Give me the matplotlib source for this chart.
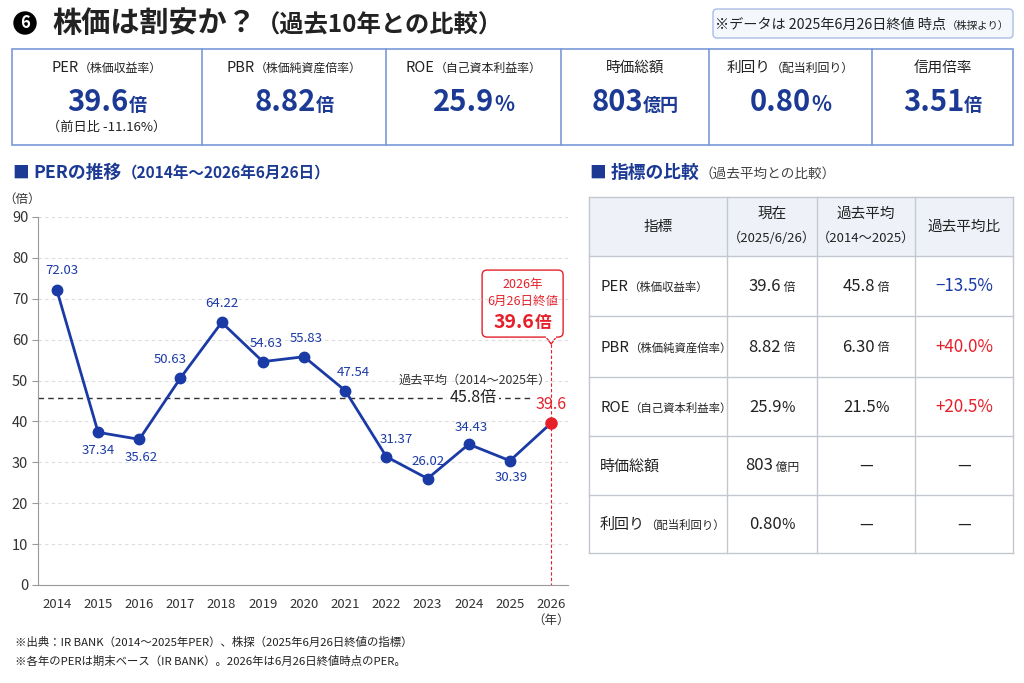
import numpy as np
import matplotlib.pyplot as plt
from matplotlib.patches import Rectangle, FancyBboxPatch, Polygon, Circle

plt.rcParams['font.family'] = ['Noto Sans CJK JP', 'DejaVu Sans']

W, H = 1024, 683

# データ
years = [2014, 2015, 2016, 2017, 2018, 2019, 2020, 2021, 2022, 2023, 2024, 2025, 2026]
per = [72.03, 37.34, 35.62, 50.63, 64.22, 54.63, 55.83, 47.54, 31.37, 26.02, 34.43, 30.39, 39.6]
per_avg = 45.8

card_titles = ['PER', 'PBR', 'ROE', '時価総額', '利回り', '信用倍率']
card_subs = ['（株価収益率）', '（株価純資産倍率）', '（自己資本利益率）', '', '（配当利回り）', '']
card_values = ['39.6', '8.82', '25.9', '803', '0.80', '3.51']
card_units = ['倍', '倍', '%', '億円', '%', '倍']
per_change = -11.16

tbl_names = ['PER', 'PBR', 'ROE', '時価総額', '利回り']
tbl_subs = ['（株価収益率）', '（株価純資産倍率）', '（自己資本利益率）', '', '（配当利回り）']
tbl_now = ['39.6', '8.82', '25.9', '803', '0.80']
tbl_now_units = ['倍', '倍', '%', '億円', '%']
tbl_avg = ['45.8', '6.30', '21.5', None, None]
tbl_avg_units = ['倍', '倍', '%', '', '']
tbl_ratio = [-13.5, 40.0, 20.5, None, None]

# 色
NAVY = '#1c3a94'
BLUE = '#1a3aa6'
RED = '#e5202a'
DARK = '#222222'
GRAY = '#444444'

fig = plt.figure(figsize=(W / 100, H / 100), dpi=100)
cv = fig.add_axes([0, 0, 1, 1])  # ピクセル座標のキャンバス
cv.set_xlim(0, W)
cv.set_ylim(H, 0)
cv.axis('off')
rdr = fig.canvas.get_renderer()


# サイズ違いの文字列を横に並べる (y はベースライン)
def rich(x, y, parts, ha='left'):
	ws = []
	for s, size, c, wt in parts:
		t = cv.text(0, 0, s, fontsize=size, fontweight=wt)
		ws.append(t.get_window_extent(rdr).width)
		t.remove()
	x0 = x - sum(ws) / 2 if ha == 'center' else x
	for (s, size, c, wt), w in zip(parts, ws):
		cv.text(x0, y, s, fontsize=size, color=c, fontweight=wt, va='baseline', ha='left')
		x0 += w


# タイトル
cv.add_patch(Circle((25, 23), 11, color='black'))
cv.text(25, 23.5, '6', fontsize=12, fontweight='bold', color='white', ha='center', va='center')
rich(52, 32, [('株価は割安か？', 21, DARK, 'bold'), ('（過去10年との比較）', 17.5, DARK, 'bold')])

cv.add_patch(FancyBboxPatch((713, 9), 300, 29, boxstyle='round,pad=0,rounding_size=4',
	fc='#f4f7fc', ec='#a9bde6', lw=1))
rich(862, 28.5, [('※データは 2025年6月26日終値 時点', 10.2, DARK, 'normal'), ('（株探より）', 7.5, DARK, 'normal')], ha='center')

# 上部カード
edges = [12, 202, 386, 561, 709, 872, 1013]
cv.add_patch(Rectangle((edges[0], 49), edges[-1] - edges[0], 96, fc='white', ec='#7b9ad8', lw=1.2))
for e in edges[1:-1]:
	cv.plot([e, e], [49, 145], color='#7b9ad8', lw=1.2)
for i in range(6):
	cx = (edges[i] + edges[i + 1]) / 2
	parts = [(card_titles[i], 10.5, DARK, 'normal')]
	if card_subs[i]:
		parts.append((card_subs[i], 8.6, DARK, 'normal'))
	rich(cx, 72, parts, ha='center')
	usize = 13 if card_units[i] != '%' else 15
	rich(cx, 111, [(card_values[i], 21, NAVY, 'bold'), (card_units[i], usize, NAVY, 'bold')], ha='center')
rich((edges[0] + edges[1]) / 2, 131, [(f'（前日比 {per_change:.2f}%）', 9.5, DARK, 'normal')], ha='center')

# セクション見出し
rich(13, 178, [('■ ', 12, NAVY, 'bold'), ('PERの推移', 12.8, NAVY, 'bold'),
	('（2014年～2026年6月26日）', 11.2, NAVY, 'bold')])
rich(590, 178, [('■ ', 12, NAVY, 'bold'), ('指標の比較', 12.8, NAVY, 'bold'),
	('（過去平均との比較）', 9.8, GRAY, 'normal')])

# PER の推移チャート
ax = fig.add_axes([38 / W, 1 - 585 / H, (568 - 38) / W, (585 - 217) / H])
ax.patch.set_alpha(0)
ax.set_xlim(2013.54, 2026.41)
ax.set_ylim(0, 90)
ax.set_yticks(np.arange(0, 91, 10))
ax.set_xticks(years)
ax.tick_params(axis='x', length=0, labelsize=9.5, labelcolor='#333', pad=9)
ax.tick_params(axis='y', length=4, color='#999', labelsize=10.5, labelcolor='#333', pad=3)
for s in ['top', 'right']:
	ax.spines[s].set_visible(False)
for s in ['left', 'bottom']:
	ax.spines[s].set_color('#999')
ax.yaxis.grid(True, ls=(0, (3, 3)), color='#dddddd', lw=0.8)
ax.set_axisbelow(True)

ax.plot(years, per, color=BLUE, lw=2, zorder=3)
ax.plot(years[:-1], per[:-1], 'o', color=BLUE, ms=7.5, zorder=4)
ax.plot(years[-1], per[-1], 'o', color=RED, ms=8, zorder=4)

offs = [(5, 20), (0, -18), (2, -18), (-10, 18), (0, 19), (3, 18), (2, 18), (8, 18),
	(10, 17), (0, 17), (3, 17), (1, -17)]
for x, v, (dx, dy) in zip(years[:-1], per[:-1], offs):
	ax.annotate(f'{v:.2f}', (x, v), xytext=(dx, dy), textcoords='offset pixels',
		ha='center', va='center', fontsize=9.5, color=BLUE)
ax.annotate(f'{per[-1]:.1f}', (years[-1], per[-1]), xytext=(0, 19), textcoords='offset pixels',
	ha='center', va='center', fontsize=11.5, color=RED)

# 過去平均
ax.plot([2013.54, 2025.55], [per_avg, per_avg], ls=(0, (4, 3)), color='#333', lw=1, zorder=2)
ax.text(2024.1, per_avg, f'{per_avg}倍', fontsize=11.5, color=DARK, ha='center', va='center',
	bbox=dict(fc='white', ec='none', pad=1.5), zorder=2.5)
ax.annotate('過去平均（2014～2025年）', (2024.15, per_avg), xytext=(0, 17), textcoords='offset pixels',
	ha='center', va='center', fontsize=8.8, color='#333')

# 2026年の吹き出し
px, py = ax.transData.transform((years[-1], per[-1]))
py = H - py
bx0, bx1 = px - 69, px + 12
by0, by1 = py - 153, py - 86
cv.add_patch(FancyBboxPatch((bx0, by0), bx1 - bx0, by1 - by0, boxstyle='round,pad=0,rounding_size=5',
	fc='white', ec=RED, lw=1, zorder=3))
cv.add_patch(Polygon([(px - 5, by1), (px + 5, by1), (px, by1 + 7)], closed=True,
	fc='white', ec=RED, lw=1, zorder=3))
cv.plot([px - 4.3, px + 4.3], [by1, by1], color='white', lw=1.6, zorder=3.5)
cv.plot([px, px], [by1 + 7, 585], color=RED, lw=0.8, ls=(0, (3, 2)), zorder=1)
bcx = (bx0 + bx1) / 2
rich(bcx, by0 + 18, [('2026年', 9, RED, 'normal')], ha='center')
rich(bcx, by0 + 35, [('6月26日終値', 9, RED, 'normal')], ha='center')
rich(bcx, by0 + 58, [(f'{per[-1]:.1f}', 14, RED, 'bold'), ('倍', 12, RED, 'bold')], ha='center')

cv.text(22, 199, '（倍）', fontsize=9, color='#333', ha='center', va='center')
cv.text(px, 620, '（年）', fontsize=9, color='#333', ha='center', va='center')

# 指標の比較テーブル
cols = [589, 727, 817, 915, 1013]
rows = [197, 256, 316, 377, 436, 495, 553]
LINE = '#c3c7d0'
cv.add_patch(Rectangle((cols[0], rows[0]), cols[-1] - cols[0], rows[1] - rows[0], fc='#eef2f8', ec='none'))
for yy in rows:
	cv.plot([cols[0], cols[-1]], [yy, yy], color=LINE, lw=1)
for xx in cols:
	cv.plot([xx, xx], [rows[0], rows[-1]], color=LINE, lw=1)

cmid = [(cols[i] + cols[i + 1]) / 2 for i in range(4)]
hy = (rows[0] + rows[1]) / 2
cv.text(cmid[0], hy, '指標', fontsize=10.5, color=DARK, ha='center', va='center')
cv.text(cmid[1], hy - 13, '現在', fontsize=10.5, color=DARK, ha='center', va='center')
cv.text(cmid[1], hy + 12, '（2025/6/26）', fontsize=9.5, color=DARK, ha='center', va='center')
cv.text(cmid[2], hy - 13, '過去平均', fontsize=10.5, color=DARK, ha='center', va='center')
cv.text(cmid[2], hy + 12, '（2014～2025）', fontsize=9.5, color=DARK, ha='center', va='center')
cv.text(cmid[3], hy, '過去平均比', fontsize=10.5, color=DARK, ha='center', va='center')


def val_parts(v, u):
	if u == '%':
		return [(v, 12, DARK, 'normal'), ('%', 10.5, DARK, 'normal')]
	return [(v, 12, DARK, 'normal'), (' ' + u, 8.5, DARK, 'normal')]


for i in range(5):
	yc = (rows[i + 1] + rows[i + 2]) / 2
	base = yc + 5
	parts = [(tbl_names[i], 10.8, DARK, 'normal')]
	if tbl_subs[i]:
		parts.append((tbl_subs[i], 8.2, DARK, 'normal'))
	rich(cols[0] + 11, base, parts)
	rich(cmid[1], base, val_parts(tbl_now[i], tbl_now_units[i]), ha='center')
	if tbl_avg[i] is None:
		cv.text(cmid[2], yc, '—', fontsize=11, color=DARK, ha='center', va='center')
	else:
		rich(cmid[2], base, val_parts(tbl_avg[i], tbl_avg_units[i]), ha='center')
	if tbl_ratio[i] is None:
		cv.text(cmid[3], yc, '—', fontsize=11, color=DARK, ha='center', va='center')
	else:
		r = tbl_ratio[i]
		s = f'{r:+.1f}%'.replace('-', '−')
		cv.text(cmid[3], base, s, fontsize=12.2, color=BLUE if r < 0 else RED,
			ha='center', va='baseline')

# 注記
cv.text(15, 642, '※出典：IR BANK（2014～2025年PER）、株探（2025年6月26日終値の指標）',
	fontsize=8.2, color=DARK, va='center')
cv.text(15, 661, '※各年のPERは期末ベース（IR BANK）。2026年は6月26日終値時点のPER。',
	fontsize=8.2, color=DARK, va='center')

fig.savefig('out.png', dpi=100)
